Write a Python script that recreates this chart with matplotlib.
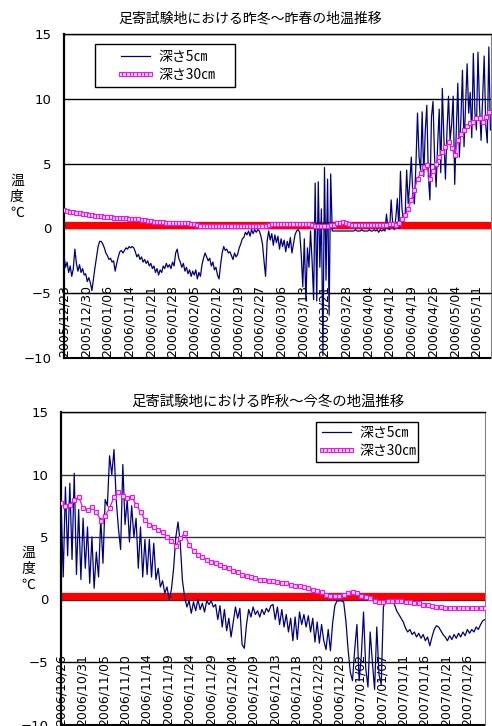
import numpy as np
import matplotlib
matplotlib.use('Agg')
import matplotlib.pyplot as plt
from matplotlib.patches import Rectangle
from matplotlib.font_manager import FontProperties

plt.rcParams['font.family'] = ['DejaVu Sans']
jp = ['Noto Sans CJK JP', 'DejaVu Sans']

# ---- data: upper chart (2005/12/23 - 2006/05/14), 5cm every half day, 30cm daily
top_title = '足寄試験地における昨冬～昨春の地温推移'
top_labels = ['2005/12/23', '2005/12/30', '2006/01/06', '2006/01/14', '2006/01/21',
              '2006/01/28', '2006/02/05', '2006/02/12', '2006/02/19', '2006/02/27',
              '2006/03/06', '2006/03/13', '2006/03/21', '2006/03/28', '2006/04/04',
              '2006/04/12', '2006/04/19', '2006/04/26', '2006/05/04', '2006/05/11']
top_5cm = [
    -2.1, -3.0, -2.6, -3.4, -2.9, -3.7, -3.1, -1.6, -2.7, -3.3, -2.8, -3.4, -3.1, -3.6,
    -3.5, -4.1, -3.8, -4.2, -4.8, -3.9, -3.0, -2.2, -1.4, -1.0, -1.0, -1.2, -1.5, -1.9,
    -2.1, -2.4, -2.3, -2.6, -2.5, -3.3, -2.7, -2.2, -1.8, -1.7, -1.9, -1.7, -1.5, -1.6,
    -1.4, -1.5, -1.4, -1.5, -1.8, -2.2, -2.0, -2.4, -2.2, -2.6, -2.4, -2.7, -2.5, -2.9,
    -2.7, -3.1, -2.9, -3.4, -3.1, -3.6, -3.2, -3.4, -2.9, -3.1, -2.7, -3.0, -2.8, -3.1,
    -2.6, -2.9, -1.9, -1.6, -2.3, -2.6, -3.0, -2.7, -3.3, -3.0, -3.5, -3.2, -3.7, -3.3,
    -3.6, -3.2, -3.9, -3.4, -3.7, -2.8, -2.3, -1.9, -2.2, -2.5, -2.3, -2.9, -2.6, -3.2,
    -3.0, -3.6, -3.9, -2.8, -1.9, -1.4, -1.7, -1.6, -1.9, -1.8, -2.1, -2.4, -1.9, -2.2,
    -2.0, -1.5, -1.2, -0.8, -0.7, -0.3, -0.5, -0.2, -0.6, -0.1, -0.4, -0.1, -0.3, -0.1,
    -0.2, -0.6, -1.2, -2.5, -3.7, -1.0, -0.2, -0.9, -0.4, -1.3, -0.5, -1.1, -0.6, -1.6,
    -0.8, -1.4, -0.9, -1.8, -1.0, -1.5, -0.7, -1.9, -1.2, -0.5, -0.2, -0.1, -0.3, -2.0,
    -4.5, -0.8, -5.6, -1.5, -3.0, -0.2, -2.5, -5.5, 3.5, -5.6, 3.6, -3.0, 1.5, -9.8,
    4.7, -4.0, 3.8, -6.7, 4.2, -0.2, -0.2, -0.2, -0.2, -0.2, -0.2, -0.2, -0.2, -0.2,
    -0.2, -0.2, -0.2, -0.2, -0.2, -0.2, -0.1, -0.2, -0.2, -0.2, -0.1, -0.2, -0.2, -0.2,
    -0.2, -0.1, -0.2, -0.2, -0.1, -0.2, -0.1, -0.3, -0.1, -0.2, -0.1, -0.2, 1.1, 0.0,
    -0.1, 2.2, 0.3, -0.1, 0.8, 2.3, 0.0, 4.4, 1.5, 0.5, 0.9, 4.5, 1.9, 3.5,
    5.5, 2.5, 1.9, 5.0, 8.9, 5.5, 4.5, 9.0, 4.0, 7.5, 9.5, 4.0, 2.2, 8.6,
    9.8, 5.5, 3.2, 6.5, 9.2, 4.3, 10.8, 7.0, 3.8, 7.5, 10.2, 6.8, 8.0, 10.2,
    3.4, 7.5, 11.2, 5.5, 8.5, 12.2, 6.3, 9.5, 12.7, 8.9, 10.5, 7.0, 13.5, 9.0,
    7.6, 13.6, 9.5, 6.8, 10.0, 13.3, 8.0, 6.6, 14.0, 7.6]
top_30cm = [
    1.40, 1.35, 1.30, 1.25, 1.20, 1.15, 1.12, 1.08, 1.05, 1.00,
    0.97, 0.94, 0.92, 0.90, 0.88, 0.86, 0.84, 0.82, 0.80, 0.78,
    0.77, 0.76, 0.75, 0.74, 0.70, 0.66, 0.62, 0.58, 0.55, 0.52,
    0.50, 0.48, 0.46, 0.45, 0.44, 0.43, 0.42, 0.40, 0.40, 0.39,
    0.38, 0.36, 0.33, 0.28, 0.22, 0.18, 0.18, 0.17, 0.17, 0.17,
    0.17, 0.17, 0.17, 0.17, 0.18, 0.18, 0.18, 0.18, 0.18, 0.18,
    0.18, 0.18, 0.18, 0.18, 0.18, 0.20, 0.30, 0.36, 0.36, 0.36,
    0.36, 0.36, 0.36, 0.36, 0.36, 0.35, 0.35, 0.35, 0.34, 0.34,
    0.30, 0.22, 0.18, 0.18, 0.18, 0.20, 0.25, 0.30, 0.40, 0.44,
    0.48, 0.44, 0.36, 0.30, 0.30, 0.30, 0.30, 0.30, 0.30, 0.30,
    0.30, 0.30, 0.30, 0.30, 0.30, 0.32, 0.35, 0.30, 0.45, 0.70,
    1.0, 1.5, 2.2, 3.0, 3.8, 4.3, 4.7, 4.9, 3.8, 4.4,
    5.0, 5.5, 5.9, 6.3, 6.7, 6.2, 5.7, 6.8, 7.3, 7.6,
    7.9, 8.1, 8.2, 8.5, 8.5, 8.2, 8.6, 9.0]

# ---- data: lower chart (2006/10/26 - 2007/01/30)
bot_title = '足寄試験地における昨秋～今冬の地温推移'
bot_labels = ['2006/10/26', '2006/10/31', '2006/11/05', '2006/11/10', '2006/11/14',
              '2006/11/19', '2006/11/24', '2006/11/29', '2006/12/04', '2006/12/09',
              '2006/12/13', '2006/12/18', '2006/12/23', '2006/12/28', '2007/01/02',
              '2007/01/07', '2007/01/11', '2007/01/16', '2007/01/21', '2007/01/26']
bot_5cm = [
    8.0, 1.8, 9.0, 3.5, 9.3, 3.2, 10.1, 2.0, 7.2, 1.6, 6.5, 2.5, 5.8, 1.3,
    5.0, 0.9, 3.8, 1.8, 6.5, 2.9, 8.0, 7.5, 11.5, 10.0, 12.0, 8.0, 5.7, 4.0,
    10.8, 6.0, 8.0, 4.6, 7.5, 5.0, 6.5, 2.5, 5.8, 1.8, 4.8, 2.0, 4.8, 1.8,
    4.5, 1.6, 2.5, 1.0, 1.5, 0.5, 1.0, 0.0, 0.8, 2.5, 5.0, 6.2, 4.5, 1.5,
    0.2, -0.6, -0.1, -1.1, -0.2, -0.9, 0.0, -0.8, -0.3, -1.0, -0.1, -0.4, -0.1, -0.6,
    -0.4, -1.6, -0.5, -2.2, -0.8, -2.5, -1.5, -3.0, -1.8, -0.6, -1.5, -0.7, -3.6, -3.9,
    -2.0, -0.8, -1.4, -0.6, -1.2, -0.9, -1.4, -0.8, -1.2, -0.7, -1.0, -0.5, -0.4, -1.6,
    -0.6, -2.0, -0.8, -2.2, -1.2, -2.6, -1.5, -3.3, -1.4, -3.2, -1.0, -2.0, -1.2, -2.2,
    -1.3, -2.6, -1.5, -3.4, -1.8, -3.5, -2.0, -3.3, -4.0, -2.4, -4.1, -1.9, -0.5, -0.1,
    -0.1, -0.1, -0.2, -1.7, -4.0, -5.8, -6.5, -4.0, -2.0, -6.5, -4.5, -1.0, -5.5, -7.0,
    -2.6, -5.0, -7.2, -2.2, -6.0, -6.8, -0.6, 0.0, 0.0, 0.0, -0.1, -0.4, -0.9, -1.2,
    -1.5, -1.8, -2.3, -2.6, -2.4, -2.8, -2.6, -3.0, -2.7, -3.1, -2.8, -3.3, -3.0, -3.7,
    -3.0, -2.4, -2.1, -2.2, -2.5, -2.8, -3.0, -3.3, -2.9, -3.2, -2.8, -3.1, -2.7, -3.0,
    -2.6, -2.9, -2.4, -2.7, -2.4, -2.6, -2.2, -2.4, -2.0, -1.7, -1.6]
bot_30cm = [
    7.7, 7.5, 7.6, 8.0, 8.2, 7.3, 7.2, 7.4, 7.0, 6.3,
    6.7, 7.3, 8.2, 8.6, 8.3, 8.1, 8.2, 7.6, 7.0, 6.4,
    6.0, 5.8, 5.6, 5.4, 5.0, 4.7, 4.3, 4.9, 5.3, 4.4,
    3.9, 3.6, 3.4, 3.2, 3.0, 2.9, 2.8, 2.6, 2.5, 2.3,
    2.2, 2.0, 1.9, 1.8, 1.7, 1.6, 1.6, 1.5, 1.5, 1.4,
    1.3, 1.3, 1.2, 1.1, 1.1, 1.0, 0.9, 0.8, 0.7, 0.6,
    0.4, 0.3, 0.3, 0.3, 0.4, 0.5, 0.6, 0.5, 0.3, 0.2,
    0.1, -0.1, -0.2, -0.2, -0.1, -0.1, -0.1, -0.1, -0.2, -0.2,
    -0.3, -0.3, -0.4, -0.4, -0.5, -0.6, -0.6, -0.7, -0.7, -0.7,
    -0.7, -0.7, -0.7, -0.7, -0.7, -0.7, -0.7]

red_level = 0.25
series_names = ['深さ5㎝', '深さ30㎝']

W, H = 492, 726
fig = plt.figure(figsize=(W / 100, H / 100), dpi=100)


def draw(ax, t5, t30, xmax, tick_days, labels, gridcol, legend_box, legend_center):
    x5 = np.arange(len(t5)) * 0.5
    x30 = np.arange(len(t30)) * 1.0
    ax.axhline(red_level, color='#ff0000', lw=5.2, zorder=2)
    l5, = ax.plot(x5, t5, color='#000080', lw=0.9, zorder=3)
    l30, = ax.plot(x30, t30, color='#ff00ff', lw=0.9, marker='s', ms=2.6,
                   mfc='#ffccff', mec='#ff00ff', mew=0.7, zorder=4)
    ax.set_xlim(0, xmax)
    ax.set_ylim(-10, 15)
    ax.set_yticks(range(-10, 16, 5))
    ax.yaxis.grid(True, color=gridcol, lw=1.0)
    ax.set_axisbelow(True)
    ax.spines['bottom'].set_position(('data', -5))
    ax.spines['bottom'].set_color('black')
    ax.spines['left'].set_linewidth(1.6)
    ax.spines['top'].set_linewidth(1.0)
    ax.spines['right'].set_color('#808080')
    ax.axhline(-10, color='black', lw=1.5, clip_on=False, zorder=1)
    ax.set_xticks(tick_days)
    ax.set_xticklabels(labels, rotation=90)
    ax.tick_params(axis='x', length=0, pad=-6, labelsize=9)
    ax.tick_params(axis='y', length=0, pad=9, labelsize=9.5)

    x0, y0, x1, y1 = legend_box
    rect = Rectangle((x0 / W, 1 - y1 / H), (x1 - x0) / W, (y1 - y0) / H,
                     transform=fig.transFigure, facecolor='white',
                     edgecolor='black', lw=1.0, zorder=6, clip_on=False)
    ax.add_patch(rect)
    leg = ax.legend([l5, l30], series_names, loc='center',
                    bbox_to_anchor=(legend_center[0] / W, 1 - legend_center[1] / H),
                    bbox_transform=fig.transFigure, frameon=False,
                    prop=FontProperties(family=jp, size=10), handlelength=2.7,
                    numpoints=9, handletextpad=0.3, labelspacing=0.25,
                    borderpad=0.2)
    leg.set_zorder(7)


ax1 = fig.add_axes([64 / W, 1 - 358 / H, 427 / W, 324 / H])
draw(ax1, top_5cm, top_30cm, 137.7, np.arange(len(top_labels)) * 7, top_labels,
     'black', (95, 44, 235, 87), (166, 66))

ax2 = fig.add_axes([61 / W, 1 - 724.5 / H, 424 / W, 312.5 / H])
draw(ax2, bot_5cm, bot_30cm, 96, np.arange(len(bot_labels)) * 92 / 19, bot_labels,
     '#333333', (316, 422, 418, 462), (367, 442))

fig.text(250 / W, 1 - 18 / H, top_title, ha='center', va='center', fontsize=10, family=jp)
fig.text(268 / W, 1 - 402 / H, bot_title, ha='center', va='center', fontsize=10.4, family=jp)
fig.text(17 / W, 1 - 197 / H, '温\n度\n℃', ha='center', va='center', fontsize=10,
         family=jp, linespacing=1.2)
fig.text(28 / W, 1 - 569 / H, '温\n度\n℃', ha='center', va='center', fontsize=10,
         family=jp, linespacing=1.2)

fig.savefig('out.png', dpi=100)
